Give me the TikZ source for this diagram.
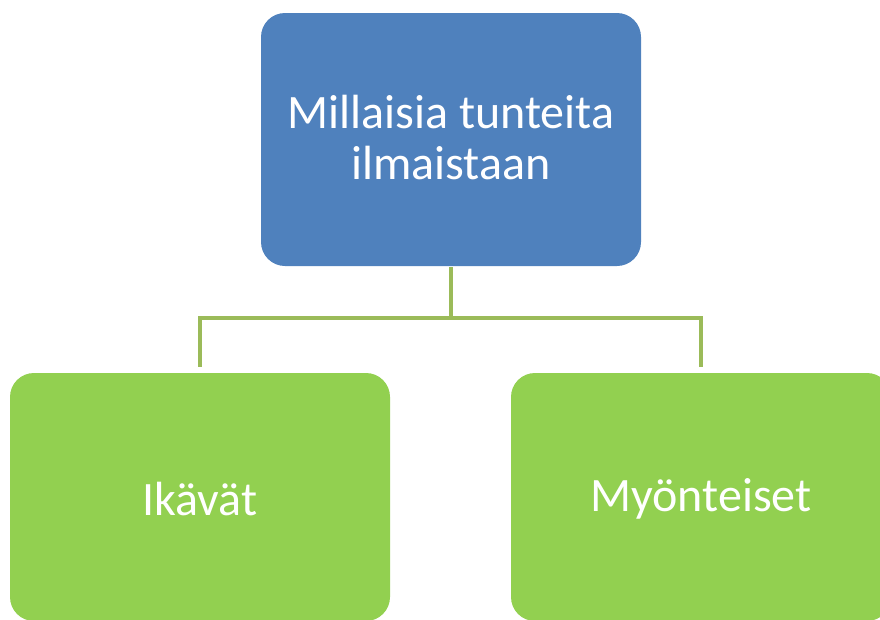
\documentclass[tikz,border=0pt]{standalone}
\usepackage{fontspec}
\setmainfont{Carlito}
\definecolor{topblue}{HTML}{4F81BD}
\definecolor{leafgreen}{HTML}{92D050}
\definecolor{linkgreen}{HTML}{9BBB59}
\begin{document}
\begin{tikzpicture}[x=1pt,y=-1pt,
  box/.style={rounded corners=24pt, inner sep=0pt, text=white, font=\fontsize{48}{51}\selectfont, align=center},
  link/.style={draw=linkgreen, line width=4.5pt}]
\useasboundingbox (0,0) rectangle (880,619);
\begin{scope}
\clip (0,0) rectangle (880,619);
\fill[topblue, rounded corners=24pt] (261,13) rectangle (641,266);
\fill[leafgreen, rounded corners=24pt] (10,373) rectangle (390,621);
\fill[leafgreen, rounded corners=24pt] (511,373) rectangle (891,621);
\end{scope}
\node[box] (top) at (451,138) {Millaisia tunteita\\ilmaistaan};
\node[box] (left) at (200,499) {Ikävät};
\node[box] (right) at (701,499) {Myönteiset};
\coordinate (ts) at (451,267);
\coordinate (ls) at (200,367);
\coordinate (rs) at (701,367);
\draw[link] (ts) -- (451,318) -| (ls);
\draw[link] (451,318) -| (rs);
\end{tikzpicture}
\end{document}
